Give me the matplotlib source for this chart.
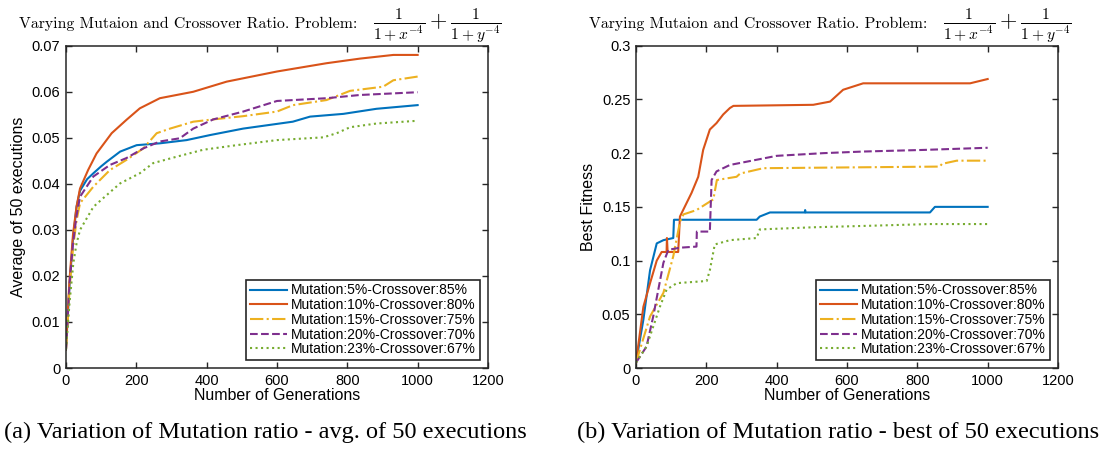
import matplotlib
matplotlib.use("Agg")
import matplotlib.pyplot as plt

# ---------------- data ----------------
labels = ["Mutation:5%-Crossover:85%", "Mutation:10%-Crossover:80%",
          "Mutation:15%-Crossover:75%", "Mutation:20%-Crossover:70%",
          "Mutation:23%-Crossover:67%"]

# (a) average of 50 executions
avg_x_5 = [0, 5, 10, 20, 30, 40, 60, 78, 100, 116, 154, 201, 267, 343, 410, 504, 645, 694, 789, 883, 1000]
avg_y_5 = [0.004, 0.011, 0.018, 0.028, 0.035, 0.0385, 0.041, 0.0423, 0.0438, 0.0448, 0.047, 0.0484,
           0.0488, 0.0495, 0.0506, 0.052, 0.0535, 0.0546, 0.0552, 0.0563, 0.0571]
avg_x_10 = [0, 5, 10, 20, 30, 40, 63, 87, 130, 172, 210, 267, 362, 457, 600, 741, 836, 931, 1000]
avg_y_10 = [0.004, 0.012, 0.019, 0.029, 0.035, 0.039, 0.043, 0.0466, 0.051, 0.0539, 0.0564, 0.0586,
            0.060, 0.0622, 0.0644, 0.0662, 0.0672, 0.068, 0.068]
avg_x_15 = [0, 5, 10, 20, 30, 40, 78, 125, 172, 220, 258, 296, 362, 419, 504, 600, 646, 741, 808, 902, 931, 1000]
avg_y_15 = [0.004, 0.010, 0.017, 0.026, 0.032, 0.0358, 0.0394, 0.043, 0.0452, 0.0477, 0.051, 0.052,
            0.0535, 0.054, 0.0547, 0.0557, 0.0571, 0.0582, 0.0602, 0.0611, 0.0625, 0.0633]
avg_x_20 = [0, 5, 10, 20, 30, 40, 78, 125, 172, 220, 267, 324, 362, 419, 504, 600, 741, 836, 1000]
avg_y_20 = [0.004, 0.011, 0.018, 0.027, 0.033, 0.0372, 0.0416, 0.0441, 0.0456, 0.0477, 0.0492, 0.0499,
            0.052, 0.054, 0.0557, 0.058, 0.0586, 0.0593, 0.0599]
avg_x_23 = [0, 5, 10, 21, 30, 40, 78, 106, 154, 210, 248, 315, 390, 485, 600, 732, 770, 808, 883, 1000]
avg_y_23 = [0.004, 0.009, 0.014, 0.0228, 0.027, 0.030, 0.035, 0.0369, 0.0401, 0.0423, 0.0445, 0.0459,
            0.0474, 0.0484, 0.0495, 0.0501, 0.051, 0.0523, 0.0531, 0.0537]

# (b) best of 50 executions
best_x_5 = [0, 21, 40, 59, 78, 106, 108, 343, 352, 381, 480, 481, 482, 836, 850, 1000]
best_y_5 = [0.005, 0.045, 0.091, 0.116, 0.119, 0.121, 0.138, 0.138, 0.141, 0.1448, 0.1448, 0.147,
            0.1448, 0.1448, 0.150, 0.150]
best_x_10 = [0, 21, 40, 59, 73, 87, 88, 90, 120, 125, 158, 177, 191, 210, 229, 248, 267, 277, 504, 552,
             589, 646, 950, 1000]
best_y_10 = [0.005, 0.057, 0.079, 0.100, 0.108, 0.108, 0.121, 0.108, 0.108, 0.141, 0.163, 0.178, 0.203,
             0.222, 0.228, 0.236, 0.242, 0.244, 0.245, 0.248, 0.259, 0.265, 0.265, 0.269]
best_x_15 = [0, 40, 78, 106, 125, 135, 172, 220, 230, 286, 296, 362, 864, 870, 912, 1000]
best_y_15 = [0.005, 0.048, 0.070, 0.104, 0.136, 0.143, 0.147, 0.157, 0.175, 0.178, 0.181, 0.186,
             0.1875, 0.190, 0.193, 0.193]
best_x_20 = [0, 30, 49, 78, 92, 125, 172, 173, 210, 215, 229, 267, 400, 533, 646, 817, 1000]
best_y_20 = [0.005, 0.020, 0.048, 0.098, 0.110, 0.112, 0.113, 0.127, 0.127, 0.175, 0.183, 0.189,
             0.1975, 0.200, 0.2015, 0.203, 0.205]
best_x_23 = [0, 30, 68, 87, 116, 201, 210, 224, 267, 343, 352, 504, 675, 836, 1000]
best_y_23 = [0.005, 0.020, 0.057, 0.073, 0.079, 0.081, 0.091, 0.115, 0.119, 0.121, 0.129, 0.131,
             0.1325, 0.134, 0.134]

x_ticks = [0, 200, 400, 600, 800, 1000, 1200]
avg_yticks = [0, 0.01, 0.02, 0.03, 0.04, 0.05, 0.06, 0.07]
avg_yticklabels = ["0", "0.01", "0.02", "0.03", "0.04", "0.05", "0.06", "0.07"]
best_yticks = [0, 0.05, 0.1, 0.15, 0.2, 0.25, 0.3]
best_yticklabels = ["0", "0.05", "0.1", "0.15", "0.2", "0.25", "0.3"]

title_text = "Varying Mutaion and Crossover Ratio. Problem:"
title_math = r"$\frac{1}{1+x^{-4}}+\frac{1}{1+y^{-4}}$"
captions = ["(a) Variation of Mutation ratio - avg. of 50 executions",
            "(b) Variation of Mutation ratio - best of 50 executions"]

# ---------------- style ----------------
colors = ["#0072BD", "#D95319", "#EDB120", "#7E2F8E", "#77AC30"]
styles = ["-", "-", "-.", "--", ":"]
plt.rcParams["font.family"] = ["Liberation Sans", "DejaVu Sans"]
plt.rcParams["mathtext.fontset"] = "cm"
ink = "#262626"

fig = plt.figure(figsize=(11.03, 4.5), dpi=100)
axA = fig.add_axes([0.0598, 0.1822, 0.3826, 0.7162])
axB = fig.add_axes([0.5766, 0.1822, 0.3826, 0.7162])

sets = [
    (axA, [(avg_x_5, avg_y_5), (avg_x_10, avg_y_10), (avg_x_15, avg_y_15), (avg_x_20, avg_y_20),
           (avg_x_23, avg_y_23)], avg_yticks, avg_yticklabels, (0, 0.07), "Average of 50 executions"),
    (axB, [(best_x_5, best_y_5), (best_x_10, best_y_10), (best_x_15, best_y_15), (best_x_20, best_y_20),
           (best_x_23, best_y_23)], best_yticks, best_yticklabels, (0, 0.3), "Best Fitness"),
]

for ax, series, yt, ytl, ylim, ylabel in sets:
    for (xs, ys), c, ls, lab in zip(series, colors, styles, labels):
        ax.plot(xs, ys, color=c, linestyle=ls, linewidth=1.5, label=lab)
    ax.set_xlim(0, 1200)
    ax.set_ylim(*ylim)
    ax.set_xticks(x_ticks)
    ax.set_xticklabels([str(v) for v in x_ticks])
    ax.set_yticks(yt)
    ax.set_yticklabels(ytl)
    ax.tick_params(direction="in", top=True, right=True, length=4, width=1, colors=ink,
                   labelsize=10.5, labelcolor="black", pad=4)
    for s in ax.spines.values():
        s.set_color(ink)
        s.set_linewidth(1.1)
    ax.set_xlabel("Number of Generations", fontsize=11.5, labelpad=0)
    ax.set_ylabel(ylabel, fontsize=11.5, labelpad=4)
    ax.text(0.69, 1.055, title_text, transform=ax.transAxes, ha="right", va="baseline",
            fontsize=11.4, fontname="cmr10")
    ax.text(0.727, 1.055, title_math, transform=ax.transAxes, ha="left", va="baseline",
            fontsize=16)
    leg = ax.legend(loc="lower right", fontsize=10, handlelength=2.7, labelspacing=0.05,
                    borderpad=0.25, handletextpad=0.3, borderaxespad=0.6, fancybox=False,
                    framealpha=1, edgecolor=ink)
    leg.get_frame().set_linewidth(1.2)

fig.text(0.004, 0.04, captions[0], fontsize=17.5, family="Liberation Serif", ha="left", va="center")
fig.text(0.523, 0.04, captions[1], fontsize=17.5, family="Liberation Serif", ha="left", va="center")

fig.savefig("out.png", dpi=100)
